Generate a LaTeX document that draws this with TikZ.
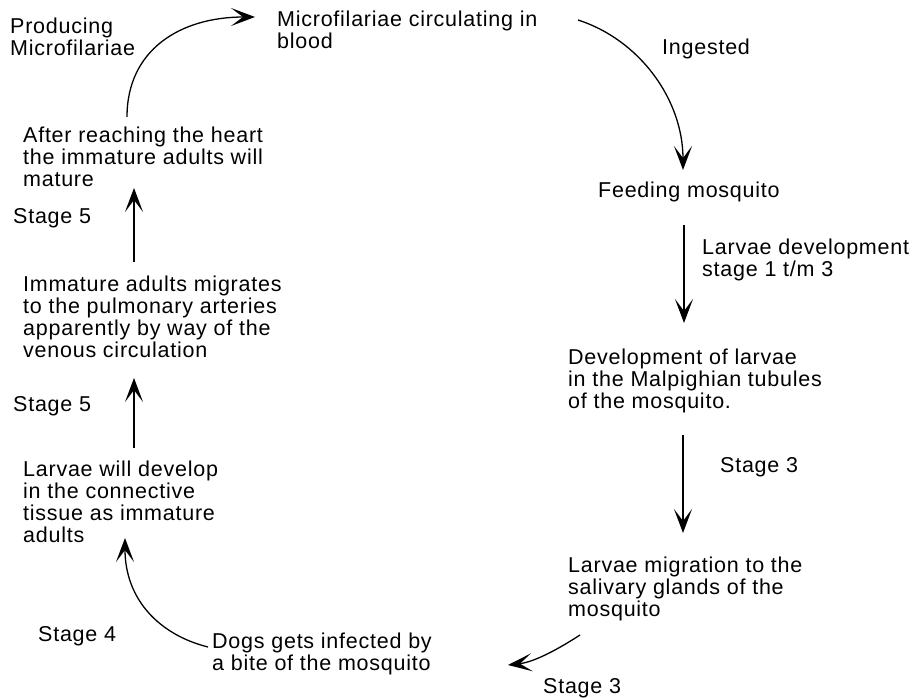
\documentclass[tikz,border=0pt]{standalone}
\usepackage{fontspec}
\setmainfont[LetterSpace=3.5]{Liberation Sans}
\usetikzlibrary{arrows.meta}
\tikzset{
  txt/.style={anchor=north west, inner sep=0pt, align=left, font=\fontsize{21.5}{21.8}\selectfont},
  arr/.style={line width=1.3pt, -{Stealth[length=24pt,width=18pt,inset=12pt]}}
}
\begin{document}
\begin{tikzpicture}[x=1pt,y=-1pt]
\useasboundingbox (0,0) rectangle (914,698);
% texts
\node[txt] (prod) at (10,18) {Producing\\Microfilariae};
\node[txt] (mcirc) at (277,11) {Microfilariae circulating in\\blood};
\node[txt] (ingested) at (662,39) {Ingested};
\node[txt] (feeding) at (598,182) {Feeding mosquito};
\node[txt] (larvdev) at (702,239) {Larvae development\\stage 1 t/m 3};
\node[txt] (devel) at (568,349) {Development of larvae\\in the Malpighian tubules\\of the mosquito.};
\node[txt] (stthreer) at (720,457) {Stage 3};
\node[txt] (migr) at (568,557) {Larvae migration to the\\salivary glands of the\\mosquito};
\node[txt] (stthreeb) at (543,678) {Stage 3};
\node[txt] (dogs) at (212,633) {Dogs gets infected by\\a bite of the mosquito};
\node[txt] (stfour) at (38,626) {Stage 4};
\node[txt] (larvwill) at (23,461) {Larvae will develop\\in the connective\\tissue as immature\\adults};
\node[txt] (stfiveb) at (13,396) {Stage 5};
\node[txt] (immature) at (23,276) {Immature adults migrates\\to the pulmonary arteries\\apparently by way of the\\venous circulation};
\node[txt] (stfivea) at (13,208) {Stage 5};
\node[txt] (after) at (23,127) {After reaching the heart\\the immature adults will\\mature};
% connector end points
\coordinate (a1s) at (127,117);
\coordinate (a1e) at (255,17);
\coordinate (a2s) at (578,20);
\coordinate (a2e) at (683,170);
\coordinate (a3s) at (684,225);
\coordinate (a3e) at (684,323);
\coordinate (a4s) at (683,435);
\coordinate (a4e) at (683,533);
\coordinate (a5s) at (580,635);
\coordinate (a5e) at (508,665);
\coordinate (a6s) at (208,647);
\coordinate (a6e) at (125,538);
\coordinate (a7s) at (134,448);
\coordinate (a7e) at (134,378);
\coordinate (a8s) at (134,262);
\coordinate (a8e) at (134,188);
% connectors
\draw[arr] (a1s) .. controls (127,50) and (180,17) .. (a1e);
\draw[arr] (a2s) .. controls (640,40) and (683,100) .. (a2e);
\draw[arr] (a3s) -- (a3e);
\draw[arr] (a4s) -- (a4e);
\draw[arr] (a5s) .. controls (560,648) and (535,662) .. (a5e);
\draw[arr] (a6s) .. controls (160,635) and (125,600) .. (a6e);
\draw[arr] (a7s) -- (a7e);
\draw[arr] (a8s) -- (a8e);
\end{tikzpicture}
\end{document}
